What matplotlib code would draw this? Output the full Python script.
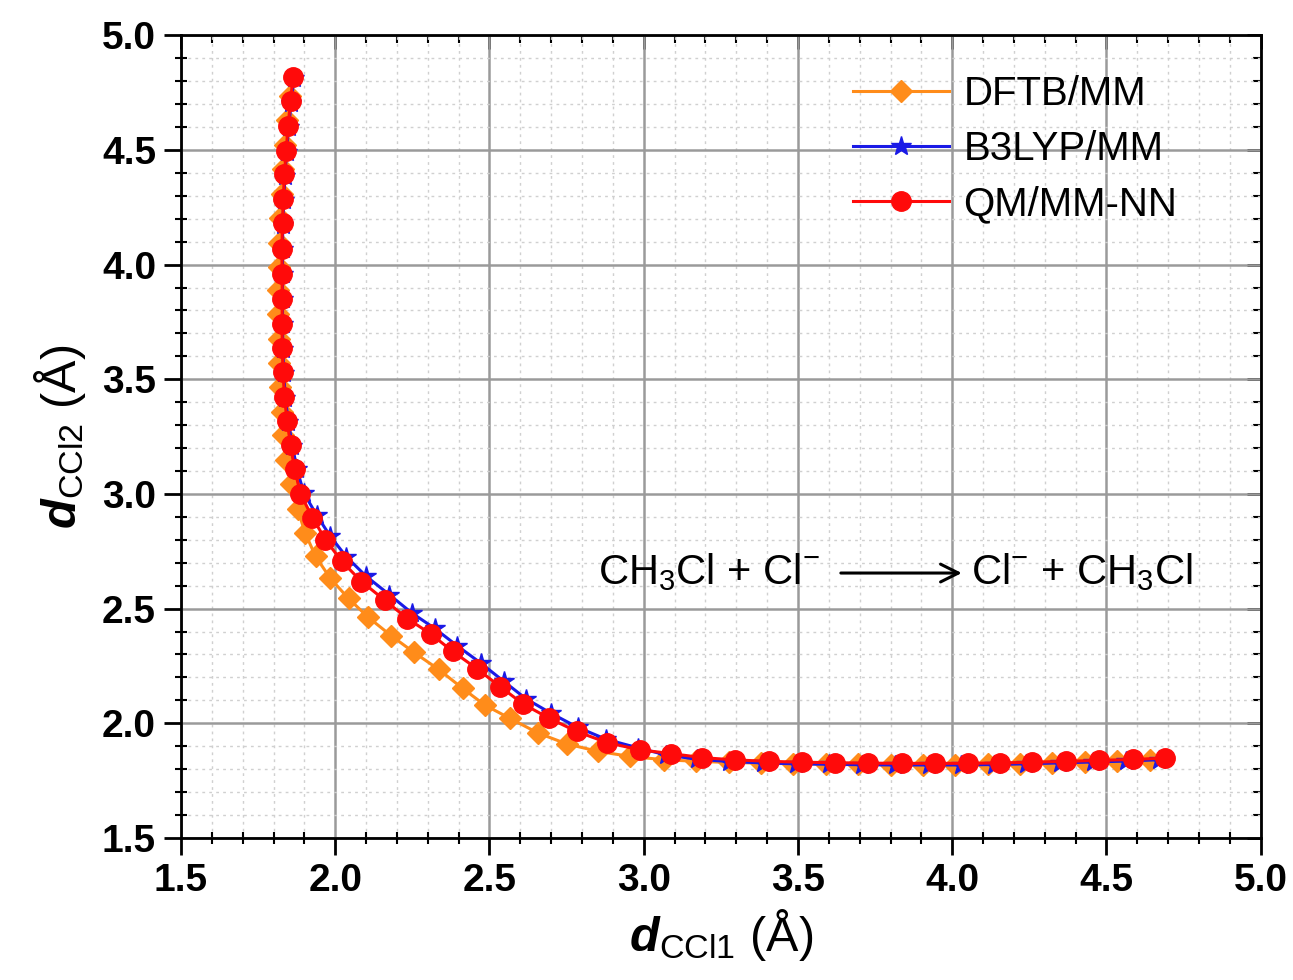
import matplotlib
matplotlib.use("Agg")
import matplotlib.pyplot as plt
from matplotlib.ticker import MultipleLocator, FormatStrFormatter

plt.rcParams['font.family'] = ['Liberation Sans', 'DejaVu Sans']
plt.rcParams['mathtext.fontset'] = 'custom'
plt.rcParams['mathtext.rm'] = 'Liberation Sans'
plt.rcParams['mathtext.it'] = 'Liberation Sans:italic'
plt.rcParams['mathtext.bf'] = 'Liberation Sans:bold'
plt.rcParams['mathtext.bfit'] = 'Liberation Sans:italic:bold'

# d_CCl1 / d_CCl2 along the reaction path (Angstrom)
dftb_x = [1.852, 1.844, 1.837, 1.831, 1.826, 1.822, 1.819, 1.817, 1.816, 1.816,
          1.817, 1.819, 1.822, 1.826, 1.832, 1.841, 1.856, 1.878, 1.902, 1.936,
          1.984, 2.043, 2.106, 2.181, 2.255, 2.335, 2.413, 2.484, 2.565, 2.658,
          2.750, 2.853, 2.957, 3.065, 3.170, 3.275, 3.380, 3.485, 3.590, 3.695,
          3.800, 3.905, 4.010, 4.115, 4.220, 4.325, 4.430, 4.535, 4.640]
dftb_y = [4.736, 4.630, 4.523, 4.416, 4.309, 4.202, 4.095, 3.990, 3.888, 3.786,
          3.677, 3.571, 3.467, 3.358, 3.256, 3.147, 3.044, 2.934, 2.831, 2.728,
          2.632, 2.544, 2.463, 2.382, 2.309, 2.235, 2.152, 2.080, 2.022, 1.957,
          1.910, 1.877, 1.855, 1.841, 1.834, 1.829, 1.826, 1.823, 1.822, 1.821,
          1.820, 1.820, 1.820, 1.822, 1.824, 1.827, 1.830, 1.834, 1.838]

b3lyp_x = [1.866, 1.857, 1.849, 1.842, 1.837, 1.833, 1.830, 1.829, 1.829, 1.829,
           1.829, 1.830, 1.833, 1.838, 1.848, 1.861, 1.876, 1.898, 1.940, 1.984,
           2.036, 2.100, 2.175, 2.249, 2.322, 2.395, 2.472, 2.546, 2.619, 2.700,
           2.786, 2.878, 2.980, 3.072, 3.172, 3.278, 3.386, 3.493, 3.600, 3.708,
           3.816, 3.924, 4.030, 4.135, 4.240, 4.350, 4.455, 4.565, 4.672]
b3lyp_y = [4.812, 4.706, 4.600, 4.492, 4.386, 4.280, 4.174, 4.066, 3.957, 3.848,
           3.739, 3.632, 3.527, 3.419, 3.315, 3.210, 3.108, 3.004, 2.907, 2.815,
           2.726, 2.641, 2.561, 2.480, 2.414, 2.338, 2.262, 2.183, 2.106, 2.043,
           1.982, 1.930, 1.893, 1.862, 1.843, 1.833, 1.827, 1.823, 1.821, 1.819,
           1.818, 1.818, 1.818, 1.820, 1.823, 1.827, 1.831, 1.835, 1.841]

nn_x = [1.863, 1.855, 1.847, 1.841, 1.835, 1.832, 1.829, 1.827, 1.828, 1.828,
        1.828, 1.828, 1.831, 1.835, 1.844, 1.855, 1.868, 1.887, 1.926, 1.968,
        2.021, 2.085, 2.160, 2.234, 2.309, 2.381, 2.460, 2.535, 2.609, 2.693,
        2.783, 2.880, 2.987, 3.087, 3.190, 3.297, 3.405, 3.513, 3.620, 3.728,
        3.836, 3.944, 4.050, 4.155, 4.260, 4.370, 4.475, 4.585, 4.690]
nn_y = [4.816, 4.712, 4.606, 4.497, 4.393, 4.287, 4.181, 4.070, 3.961, 3.852,
        3.743, 3.638, 3.532, 3.423, 3.318, 3.212, 3.110, 3.001, 2.897, 2.801,
        2.706, 2.618, 2.537, 2.456, 2.390, 2.313, 2.237, 2.159, 2.084, 2.022,
        1.964, 1.916, 1.884, 1.868, 1.850, 1.840, 1.834, 1.830, 1.828, 1.826,
        1.825, 1.825, 1.825, 1.827, 1.830, 1.834, 1.838, 1.842, 1.848]

fig = plt.figure(figsize=(12.93, 9.8), dpi=100)
ax = fig.add_axes([0.140, 0.145, 0.835, 0.819])

ax.plot(dftb_x, dftb_y, color='#FF8C1A', lw=2.2, marker='D', ms=11, label='DFTB/MM')
ax.plot(b3lyp_x, b3lyp_y, color='#1A1AE6', lw=2.2, marker='*', ms=15, label='B3LYP/MM')
ax.plot(nn_x, nn_y, color='#FF0A0A', lw=2.2, marker='o', ms=14, label='QM/MM-NN')

ax.set_xlim(1.5, 5.0)
ax.set_ylim(1.5, 5.0)
for axis in (ax.xaxis, ax.yaxis):
    axis.set_major_locator(MultipleLocator(0.5))
    axis.set_minor_locator(MultipleLocator(0.1))
    axis.set_major_formatter(FormatStrFormatter('%.1f'))

ax.grid(which='major', color='#9a9a9a', lw=1.8)
ax.grid(which='minor', color='#d0d0d0', lw=1.0, ls=(0, (2, 3)))
ax.set_axisbelow(True)

for sp in ax.spines.values():
    sp.set_linewidth(2)
ax.tick_params(which='major', direction='out', length=12, width=2, labelsize=28, pad=6)
ax.tick_params(which='minor', direction='inout', length=9, width=1.5)
for lab in ax.get_xticklabels() + ax.get_yticklabels():
    lab.set_fontweight('bold')

# inward ticks on the top and right frame
top = ax.secondary_xaxis('top')
top.xaxis.set_major_locator(MultipleLocator(0.5))
top.xaxis.set_minor_locator(MultipleLocator(0.1))
top.tick_params(which='major', direction='in', length=10, width=2, labeltop=False)
top.tick_params(which='minor', direction='in', length=6, width=1.5)
right = ax.secondary_yaxis('right')
right.yaxis.set_major_locator(MultipleLocator(0.5))
right.yaxis.set_minor_locator(MultipleLocator(0.1))
right.tick_params(which='major', direction='in', length=10, width=2, labelright=False)
right.tick_params(which='minor', direction='in', length=6, width=1.5)

ax.set_xlabel(r'$\mathbfit{d}_{\mathregular{CCl1}}$ (Å)', fontsize=35, labelpad=6)
ax.set_ylabel(r'$\mathbfit{d}_{\mathregular{CCl2}}$ (Å)', fontsize=35, labelpad=10)

ax.text(3.57, 2.66, r'CH$_3$Cl + Cl$^{-}$', fontsize=30, ha='right', va='center')
ax.text(4.06, 2.66, r'Cl$^{-}$ + CH$_3$Cl', fontsize=30, ha='left', va='center')
ax.annotate('', xy=(4.04, 2.655), xytext=(3.63, 2.655),
            arrowprops=dict(arrowstyle='->', lw=2.2, color='black', mutation_scale=32))

ax.legend(loc='upper left', bbox_to_anchor=(0.622, 0.950), fontsize=29, frameon=False,
          handlelength=2.4, borderaxespad=0, borderpad=0, handletextpad=0.35,
          labelspacing=0.42)

fig.savefig('out.png', dpi=100)
